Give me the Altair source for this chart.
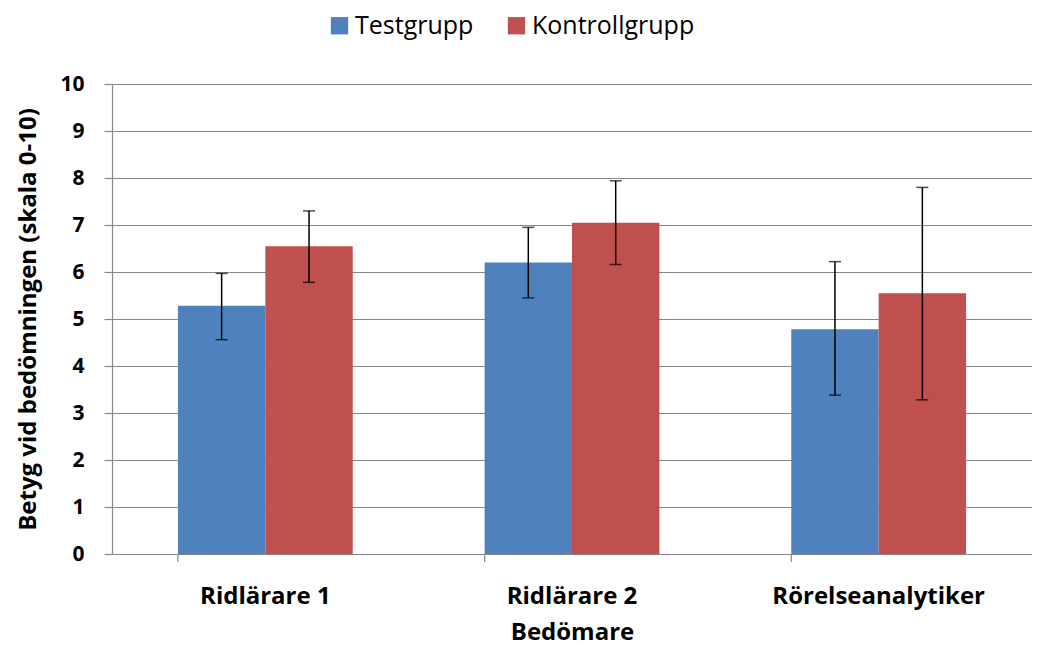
import altair as alt
import pandas as pd

categories = ["Ridlärare 1", "Ridlärare 2", "Rörelseanalytiker"]
groups = ["Testgrupp", "Kontrollgrupp"]
test_values = [5.28, 6.20, 4.78]
test_lo = [4.56, 5.45, 3.38]
test_hi = [5.97, 6.95, 6.22]
ctrl_values = [6.55, 7.05, 5.55]
ctrl_lo = [5.78, 6.16, 3.28]
ctrl_hi = [7.30, 7.94, 7.80]
colors = ["#4F81BD", "#C0504D"]

rows = []
for i, c in enumerate(categories):
    rows.append({"Bedömare": c, "Grupp": groups[0], "value": test_values[i], "lo": test_lo[i], "hi": test_hi[i]})
    rows.append({"Bedömare": c, "Grupp": groups[1], "value": ctrl_values[i], "lo": ctrl_lo[i], "hi": ctrl_hi[i]})
df = pd.DataFrame(rows)
cat_df = pd.DataFrame({"Bedömare": categories})

FONT = "Open Sans"
xscale = alt.Scale(domain=categories, paddingInner=0.43, paddingOuter=0.215)
xaxis = alt.Axis(title="Bedömare", labelAngle=0)
yaxis = alt.Axis(title="Betyg vid bedömningen (skala 0-10)", values=list(range(11)))
x = alt.X("Bedömare:N", sort=categories, scale=xscale, axis=xaxis)
xoff = alt.XOffset("Grupp:N", sort=groups, scale=alt.Scale(domain=groups, paddingInner=0, paddingOuter=0))
yscale = alt.Scale(domain=[0, 10], nice=False)

bars = alt.Chart(df).mark_bar().encode(
    x=x,
    xOffset=xoff,
    y=alt.Y("value:Q", scale=yscale, axis=yaxis),
    color=alt.Color("Grupp:N", sort=groups, scale=alt.Scale(domain=groups, range=colors),
                    legend=alt.Legend(title=None, orient="none", direction="horizontal",
                                      legendX=215, legendY=-71, symbolType="square", symbolSize=300,
                                      symbolStrokeWidth=0, columnPadding=30, labelOffset=3)),
)

err = alt.Chart(df).mark_rule(color="black", strokeWidth=1.5).encode(
    x=x,
    xOffset=xoff,
    y=alt.Y("lo:Q", scale=yscale, axis=yaxis),
    y2="hi:Q",
)
caps_hi = alt.Chart(df).mark_tick(color="black", thickness=1.5, size=12, orient="horizontal").encode(
    x=x,
    xOffset=xoff,
    y=alt.Y("hi:Q", scale=yscale, axis=yaxis),
)
caps_lo = alt.Chart(df).mark_tick(color="black", thickness=1.5, size=12, orient="horizontal").encode(
    x=x,
    xOffset=xoff,
    y=alt.Y("lo:Q", scale=yscale, axis=yaxis),
)
xticks = alt.Chart(cat_df).mark_rule(color="#888888", strokeWidth=1.2).encode(
    x=alt.X("Bedömare:N", sort=categories, scale=xscale, bandPosition=0, axis=xaxis),
    y=alt.value(470),
    y2=alt.value(478),
)

chart = alt.layer(bars, err, caps_hi, caps_lo, xticks).properties(
    width=920, height=470,
    autosize=alt.AutoSizeParams(type="none"),
    padding={"left": 104, "top": 76, "right": 0, "bottom": 94},
).configure_view(stroke=None).configure(font=FONT).configure_axis(
    labelFont=FONT, titleFont=FONT,
    labelFontWeight="bold", labelColor="black", labelLimit=400,
    titleFontSize=24, titleFontWeight="bold", titleColor="black",
    domainColor="#888888", domainWidth=1.2, tickColor="#888888", tickWidth=1.2,
    gridColor="#888888", gridWidth=1.2,
).configure_axisX(
    ticks=False, grid=False, labelFontSize=24, labelPadding=30, titlePadding=12,
).configure_axisY(
    tickSize=8, labelFontSize=21, labelPadding=20, titlePadding=19,
).configure_legend(
    labelFont=FONT, labelFontSize=25, labelColor="black", labelLimit=400,
)

chart.save("out.html", embed_options={"renderer": "svg", "actions": False})
